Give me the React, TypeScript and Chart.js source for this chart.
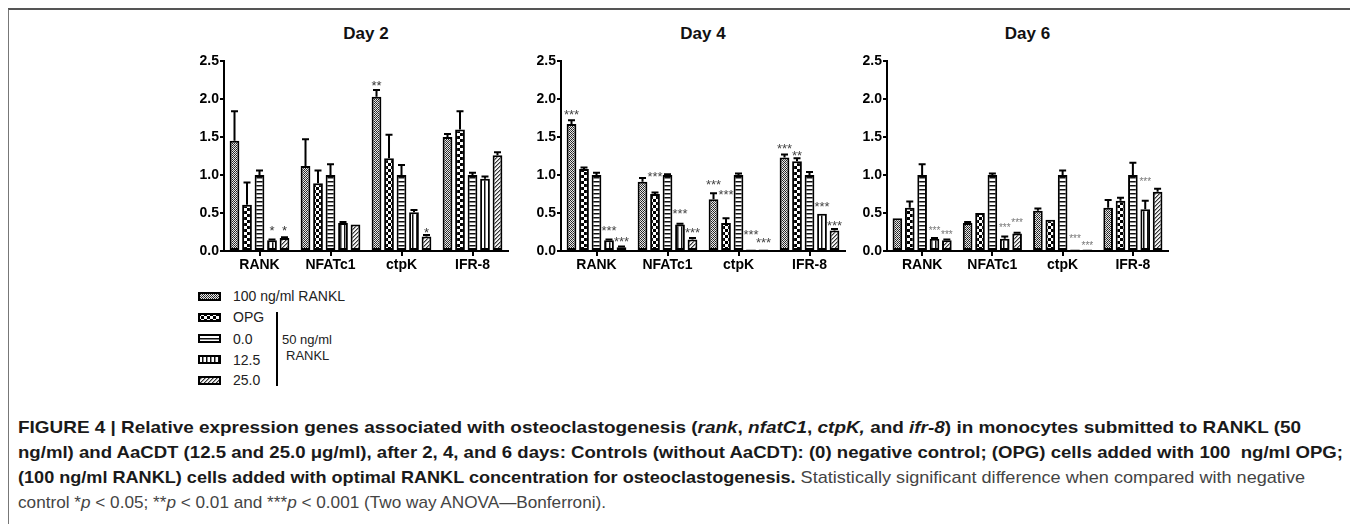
import React, { useEffect, useLayoutEffect, useRef } from "react";
import { Chart, registerables } from "chart.js";
Chart.register(...registerables);

const categories = ["RANK", "NFATc1", "ctpK", "IFR-8"];
const seriesNames = ["100 ng/ml RANKL", "OPG", "0.0", "12.5", "25.0"];
const yTickValues = [0, 0.5, 1.0, 1.5, 2.0, 2.5];
const dayTitles = ["Day 2", "Day 4", "Day 6"];

// Day 2 means and upper error limits (per series, per category)
const d2Rankl = [1.45, 1.12, 2.03, 1.5];
const d2RanklErr = [1.84, 1.47, 2.12, 1.54];
const d2Opg = [0.61, 0.89, 1.22, 1.6];
const d2OpgErr = [0.9, 1.06, 1.53, 1.84];
const d2C0 = [1.0, 1.0, 1.0, 1.0];
const d2C0Err = [1.06, 1.14, 1.13, 1.03];
const d2C125 = [0.14, 0.37, 0.51, 0.95];
const d2C125Err = [0.15, 0.38, 0.54, 0.98];
const d2C25 = [0.17, 0.35, 0.19, 1.26];
const d2C25Err = [0.18, 0.35, 0.21, 1.3];

// Day 4
const d4Rankl = [1.67, 0.91, 0.68, 1.23];
const d4RanklErr = [1.72, 0.96, 0.76, 1.27];
const d4Opg = [1.08, 0.75, 0.37, 1.18];
const d4OpgErr = [1.1, 0.77, 0.43, 1.22];
const d4C0 = [1.0, 1.0, 1.0, 1.0];
const d4C0Err = [1.03, 1.01, 1.02, 1.04];
const d4C125 = [0.14, 0.35, 0.02, 0.49];
const d4C125Err = [0.15, 0.36, 0.02, 0.49];
const d4C25 = [0.05, 0.15, 0.02, 0.27];
const d4C25Err = [0.06, 0.17, 0.02, 0.29];

// Day 6
const d6Rankl = [0.43, 0.37, 0.53, 0.57];
const d6RanklErr = [0.43, 0.38, 0.56, 0.67];
const d6Opg = [0.57, 0.5, 0.41, 0.66];
const d6OpgErr = [0.65, 0.5, 0.41, 0.7];
const d6C0 = [1.0, 1.0, 1.0, 1.0];
const d6C0Err = [1.14, 1.02, 1.06, 1.16];
const d6C125 = [0.16, 0.16, 0.02, 0.55];
const d6C125Err = [0.17, 0.19, 0.02, 0.66];
const d6C25 = [0.14, 0.23, 0.02, 0.78];
const d6C25Err = [0.15, 0.24, 0.02, 0.82];

// significance marks: [seriesIndex, categoryIndex, label, level (y value)]
const d2Stars: [number, number, string, number][] = [
  [3, 0, "*", 0.31], [4, 0, "*", 0.31], [0, 2, "**", 2.22], [4, 2, "*", 0.28],
];
const d4Stars: [number, number, string, number][] = [
  [0, 0, "***", 1.83], [3, 0, "***", 0.31], [4, 0, "***", 0.16],
  [1, 1, "***", 1.02], [3, 1, "***", 0.53], [4, 1, "***", 0.29],
  [0, 2, "***", 0.92], [1, 2, "***", 0.79], [3, 2, "***", 0.26], [4, 2, "***", 0.15],
  [0, 3, "***", 1.39], [1, 3, "**", 1.3], [3, 3, "***", 0.62], [4, 3, "***", 0.38],
];
const d6Stars: [number, number, string, number][] = [
  [3, 0, "***", 0.3], [4, 0, "***", 0.25], [3, 1, "***", 0.34], [4, 1, "***", 0.4],
  [3, 2, "***", 0.19], [4, 2, "***", 0.1], [3, 3, "***", 0.95],
];

const FONT = '"Liberation Sans", Arial, sans-serif';

function makePattern(kind: number): CanvasPattern | string {
  const c = document.createElement("canvas");
  const ctx = c.getContext("2d");
  if (!ctx) return "#888";
  if (kind === 0) {
    c.width = 4; c.height = 4;
    ctx.fillStyle = "#e8e8e8"; ctx.fillRect(0, 0, 4, 4);
    ctx.fillStyle = "#222";
    for (let x = 0; x < 4; x++) for (let y = 0; y < 4; y++) if ((x + y) % 2 === 0) ctx.fillRect(x, y, 1, 1);
    ctx.fillStyle = "#555"; ctx.fillRect(1, 1, 1, 1); ctx.fillRect(3, 3, 1, 1);
  } else if (kind === 1) {
    c.width = 6; c.height = 6;
    ctx.fillStyle = "#fff"; ctx.fillRect(0, 0, 6, 6);
    ctx.fillStyle = "#000"; ctx.fillRect(0, 0, 3, 3); ctx.fillRect(3, 3, 3, 3);
  } else if (kind === 2) {
    c.width = 4; c.height = 4;
    ctx.fillStyle = "#fff"; ctx.fillRect(0, 0, 4, 4);
    ctx.fillStyle = "#111"; ctx.fillRect(0, 0, 4, 1);
    ctx.fillStyle = "#888"; ctx.fillRect(0, 1, 4, 1);
  } else if (kind === 3) {
    c.width = 4; c.height = 4;
    ctx.fillStyle = "#fff"; ctx.fillRect(0, 0, 4, 4);
    ctx.fillStyle = "#111"; ctx.fillRect(0, 0, 1, 4);
    ctx.fillStyle = "#888"; ctx.fillRect(1, 0, 1, 4);
  } else {
    c.width = 4; c.height = 4;
    ctx.fillStyle = "#f2f2f2"; ctx.fillRect(0, 0, 4, 4);
    ctx.fillStyle = "#333";
    for (let x = 0; x < 4; x++) for (let y = 0; y < 4; y++) if ((x + y) % 4 === 0) ctx.fillRect(x, y, 1, 1);
    ctx.fillStyle = "#999";
    for (let x = 0; x < 4; x++) for (let y = 0; y < 4; y++) if ((x + y) % 4 === 1) ctx.fillRect(x, y, 1, 1);
  }
  const p = ctx.createPattern(c, "repeat");
  return p || "#888";
}

type DayProps = {
  values: number[][];
  errs: number[][];
  stars: [number, number, string, number][];
  starSize: number;
  starColor: string;
  width: number;
};

function DayChart({ values, errs, stars, starSize, starColor, width }: DayProps) {
  const ref = useRef<HTMLCanvasElement>(null);
  useEffect(() => {
    if (!ref.current) return;
    const patterns = [0, 1, 2, 3, 4].map(makePattern);
    const errorPlugin = {
      id: "errAndStars",
      afterDatasetsDraw(chart: any) {
        const ctx = chart.ctx;
        const yScale = chart.scales.y;
        ctx.save();
        ctx.strokeStyle = "#000";
        ctx.lineWidth = 2;
        chart.data.datasets.forEach((ds: any, i: number) => {
          const meta = chart.getDatasetMeta(i);
          meta.data.forEach((el: any, j: number) => {
            const v = values[i][j];
            const e = errs[i][j];
            if (e - v > 0.005) {
              const yTop = yScale.getPixelForValue(e);
              ctx.beginPath();
              ctx.moveTo(el.x, el.y);
              ctx.lineTo(el.x, yTop);
              ctx.moveTo(el.x - 3.5, yTop);
              ctx.lineTo(el.x + 3.5, yTop);
              ctx.stroke();
            }
          });
        });
        ctx.fillStyle = starColor;
        ctx.font = `${starSize}px ${FONT}`;
        ctx.textAlign = "center";
        ctx.textBaseline = "alphabetic";
        stars.forEach(([si, ci, label, level]) => {
          const el = chart.getDatasetMeta(si).data[ci] as any;
          const y = yScale.getPixelForValue(level) + starSize * 0.58;
          ctx.fillText(label, el.x, y);
        });
        ctx.restore();
      },
    };
    const chart = new Chart(ref.current, {
      type: "bar",
      data: {
        labels: categories,
        datasets: seriesNames.map((name, i) => ({
          label: name,
          data: values[i],
          backgroundColor: patterns[i] as any,
          borderColor: "#000",
          borderWidth: 2,
          borderSkipped: false,
          barPercentage: 0.78,
          categoryPercentage: 0.88,
        })),
      },
      options: {
        responsive: false,
        animation: false,
        layout: { padding: { top: 12, right: 6, left: 0, bottom: 0 } },
        plugins: { legend: { display: false }, tooltip: { enabled: false }, title: { display: false } },
        scales: {
          x: {
            type: "category",
            offset: true,
            grid: { display: true, drawOnChartArea: false, drawTicks: true, tickLength: 5, color: "#000", lineWidth: 2, offset: false },
            border: { display: true, color: "#000", width: 2 },
            ticks: { color: "#000", font: { family: FONT, size: 14, weight: "bold" }, padding: 1, maxRotation: 0, autoSkip: false },
            afterFit: (s: any) => { s.height = 30; },
          },
          y: {
            min: 0,
            max: 2.5,
            afterBuildTicks: (s: any) => { s.ticks = yTickValues.map((v) => ({ value: v })); },
            grid: { display: true, drawOnChartArea: false, drawTicks: true, tickLength: 4, color: "#000", lineWidth: 2 },
            border: { display: true, color: "#000", width: 2 },
            ticks: { color: "#000", font: { family: FONT, size: 14, weight: "bold" }, padding: 1, callback: (v: any) => Number(v).toFixed(1) },
            afterFit: (s: any) => { s.width = 40; },
          },
        },
      } as any,
      plugins: [errorPlugin],
    });
    return () => chart.destroy();
  }, []);
  return <canvas ref={ref} width={40 + width + 6} height={232} />;
}

function Swatch({ kind }: { kind: number }) {
  const ref = useRef<HTMLCanvasElement>(null);
  useEffect(() => {
    const c = ref.current;
    if (!c) return;
    const ctx = c.getContext("2d");
    if (!ctx) return;
    ctx.fillStyle = makePattern(kind) as any;
    ctx.fillRect(0, 0, 23, 9);
    ctx.strokeStyle = "#000";
    ctx.lineWidth = 2;
    ctx.strokeRect(1, 1, 21, 7);
  }, []);
  return <canvas ref={ref} width={23} height={9} style={{ display: "block" }} />;
}

const O = 8; // body margin offset
const abs = (x: number, y: number): React.CSSProperties => ({ position: "absolute", left: x - O, top: y - O });

function CaptionLine({ top, right, children }: { top: number; right: number; children: React.ReactNode }) {
  const ref = useRef<HTMLSpanElement>(null);
  useLayoutEffect(() => {
    const el = ref.current;
    if (!el) return;
    el.style.transform = "none";
    const w = el.getBoundingClientRect().width;
    if (w > 0) el.style.transform = `scaleX(${(right - 18) / w})`;
  }, []);
  return (
    <div style={{ ...abs(18, top), whiteSpace: "nowrap" }}>
      <span ref={ref} style={{ display: "inline-block", transformOrigin: "0 0", fontFamily: FONT, fontSize: 17, lineHeight: "25px", color: "#222" }}>{children}</span>
    </div>
  );
}

export default function App() {
  const days = [
    { L: 224, W: 284, values: [d2Rankl, d2Opg, d2C0, d2C125, d2C25], errs: [d2RanklErr, d2OpgErr, d2C0Err, d2C125Err, d2C25Err], stars: d2Stars, starSize: 13, starColor: "#333" },
    { L: 561, W: 284, values: [d4Rankl, d4Opg, d4C0, d4C125, d4C25], errs: [d4RanklErr, d4OpgErr, d4C0Err, d4C125Err, d4C25Err], stars: d4Stars, starSize: 13, starColor: "#444" },
    { L: 887, W: 281, values: [d6Rankl, d6Opg, d6C0, d6C125, d6C25], errs: [d6RanklErr, d6OpgErr, d6C0Err, d6C125Err, d6C25Err], stars: d6Stars, starSize: 10, starColor: "#777" },
  ];
  const legendRows = [296, 317, 338.5, 359.5, 380];
  const b: React.CSSProperties = { fontWeight: "bold", color: "#1a1a1a" };
  const r: React.CSSProperties = { fontWeight: "normal", color: "#444" };
  return (
    <div style={{ position: "relative", width: 1342, height: 516, fontFamily: FONT }}>
      <div style={{ position: "absolute", left: -1, top: 0, width: 1342, height: 515, borderTop: "2px solid #555", borderLeft: "2px solid #777", borderRight: "1px solid #777", borderBottom: "1px solid #777" }} />
      {days.map((d, k) => (
        <React.Fragment key={k}>
          <div style={{ ...abs(d.L, 24), width: d.W, textAlign: "center", fontWeight: "bold", fontSize: 17, lineHeight: "20px", color: "#111" }}>{dayTitles[k]}</div>
          <div style={abs(d.L - 40, 49)}>
            <DayChart values={d.values} errs={d.errs} stars={d.stars} starSize={d.starSize} starColor={d.starColor} width={d.W} />
          </div>
        </React.Fragment>
      ))}
      {seriesNames.map((name, i) => (
        <React.Fragment key={name}>
          <div style={abs(198, legendRows[i] - 4.5)}><Swatch kind={i} /></div>
          <div style={{ ...abs(233, legendRows[i] - 9), fontSize: 14, lineHeight: "18px", color: "#222", whiteSpace: "nowrap" }}>{name}</div>
        </React.Fragment>
      ))}
      <div style={{ ...abs(276, 312), width: 2, height: 74, background: "#000" }} />
      <div style={{ ...abs(282, 332), fontSize: 13, lineHeight: "16px", color: "#222", whiteSpace: "nowrap" }}>50 ng/ml</div>
      <div style={{ ...abs(286, 348), fontSize: 13, lineHeight: "16px", color: "#222", whiteSpace: "nowrap" }}>RANKL</div>

      <CaptionLine top={414.5} right={1301}>
        <span style={b}>FIGURE 4 | Relative expression genes associated with osteoclastogenesis (<i>rank</i>, <i>nfatC1</i>, <i>ctpK,</i> and <i>ifr-8</i>) in monocytes submitted to RANKL (50</span>
      </CaptionLine>
      <CaptionLine top={439.5} right={1343}>
        <span style={b}>ng/ml) and AaCDT (12.5 and 25.0 μg/ml), after 2, 4, and 6 days: Controls (without AaCDT): (0) negative control; (OPG) cells added with 100&nbsp; ng/ml OPG;</span>
      </CaptionLine>
      <CaptionLine top={464.5} right={1305}>
        <span style={b}>(100 ng/ml RANKL) cells added with optimal RANKL concentration for osteoclastogenesis.</span>
        <span style={r}> Statistically significant difference when compared with negative</span>
      </CaptionLine>
      <CaptionLine top={489.5} right={606}>
        <span style={r}>control *<i>p</i> &lt; 0.05; **<i>p</i> &lt; 0.01 and ***<i>p</i> &lt; 0.001 (Two way ANOVA—Bonferroni).</span>
      </CaptionLine>
    </div>
  );
}
